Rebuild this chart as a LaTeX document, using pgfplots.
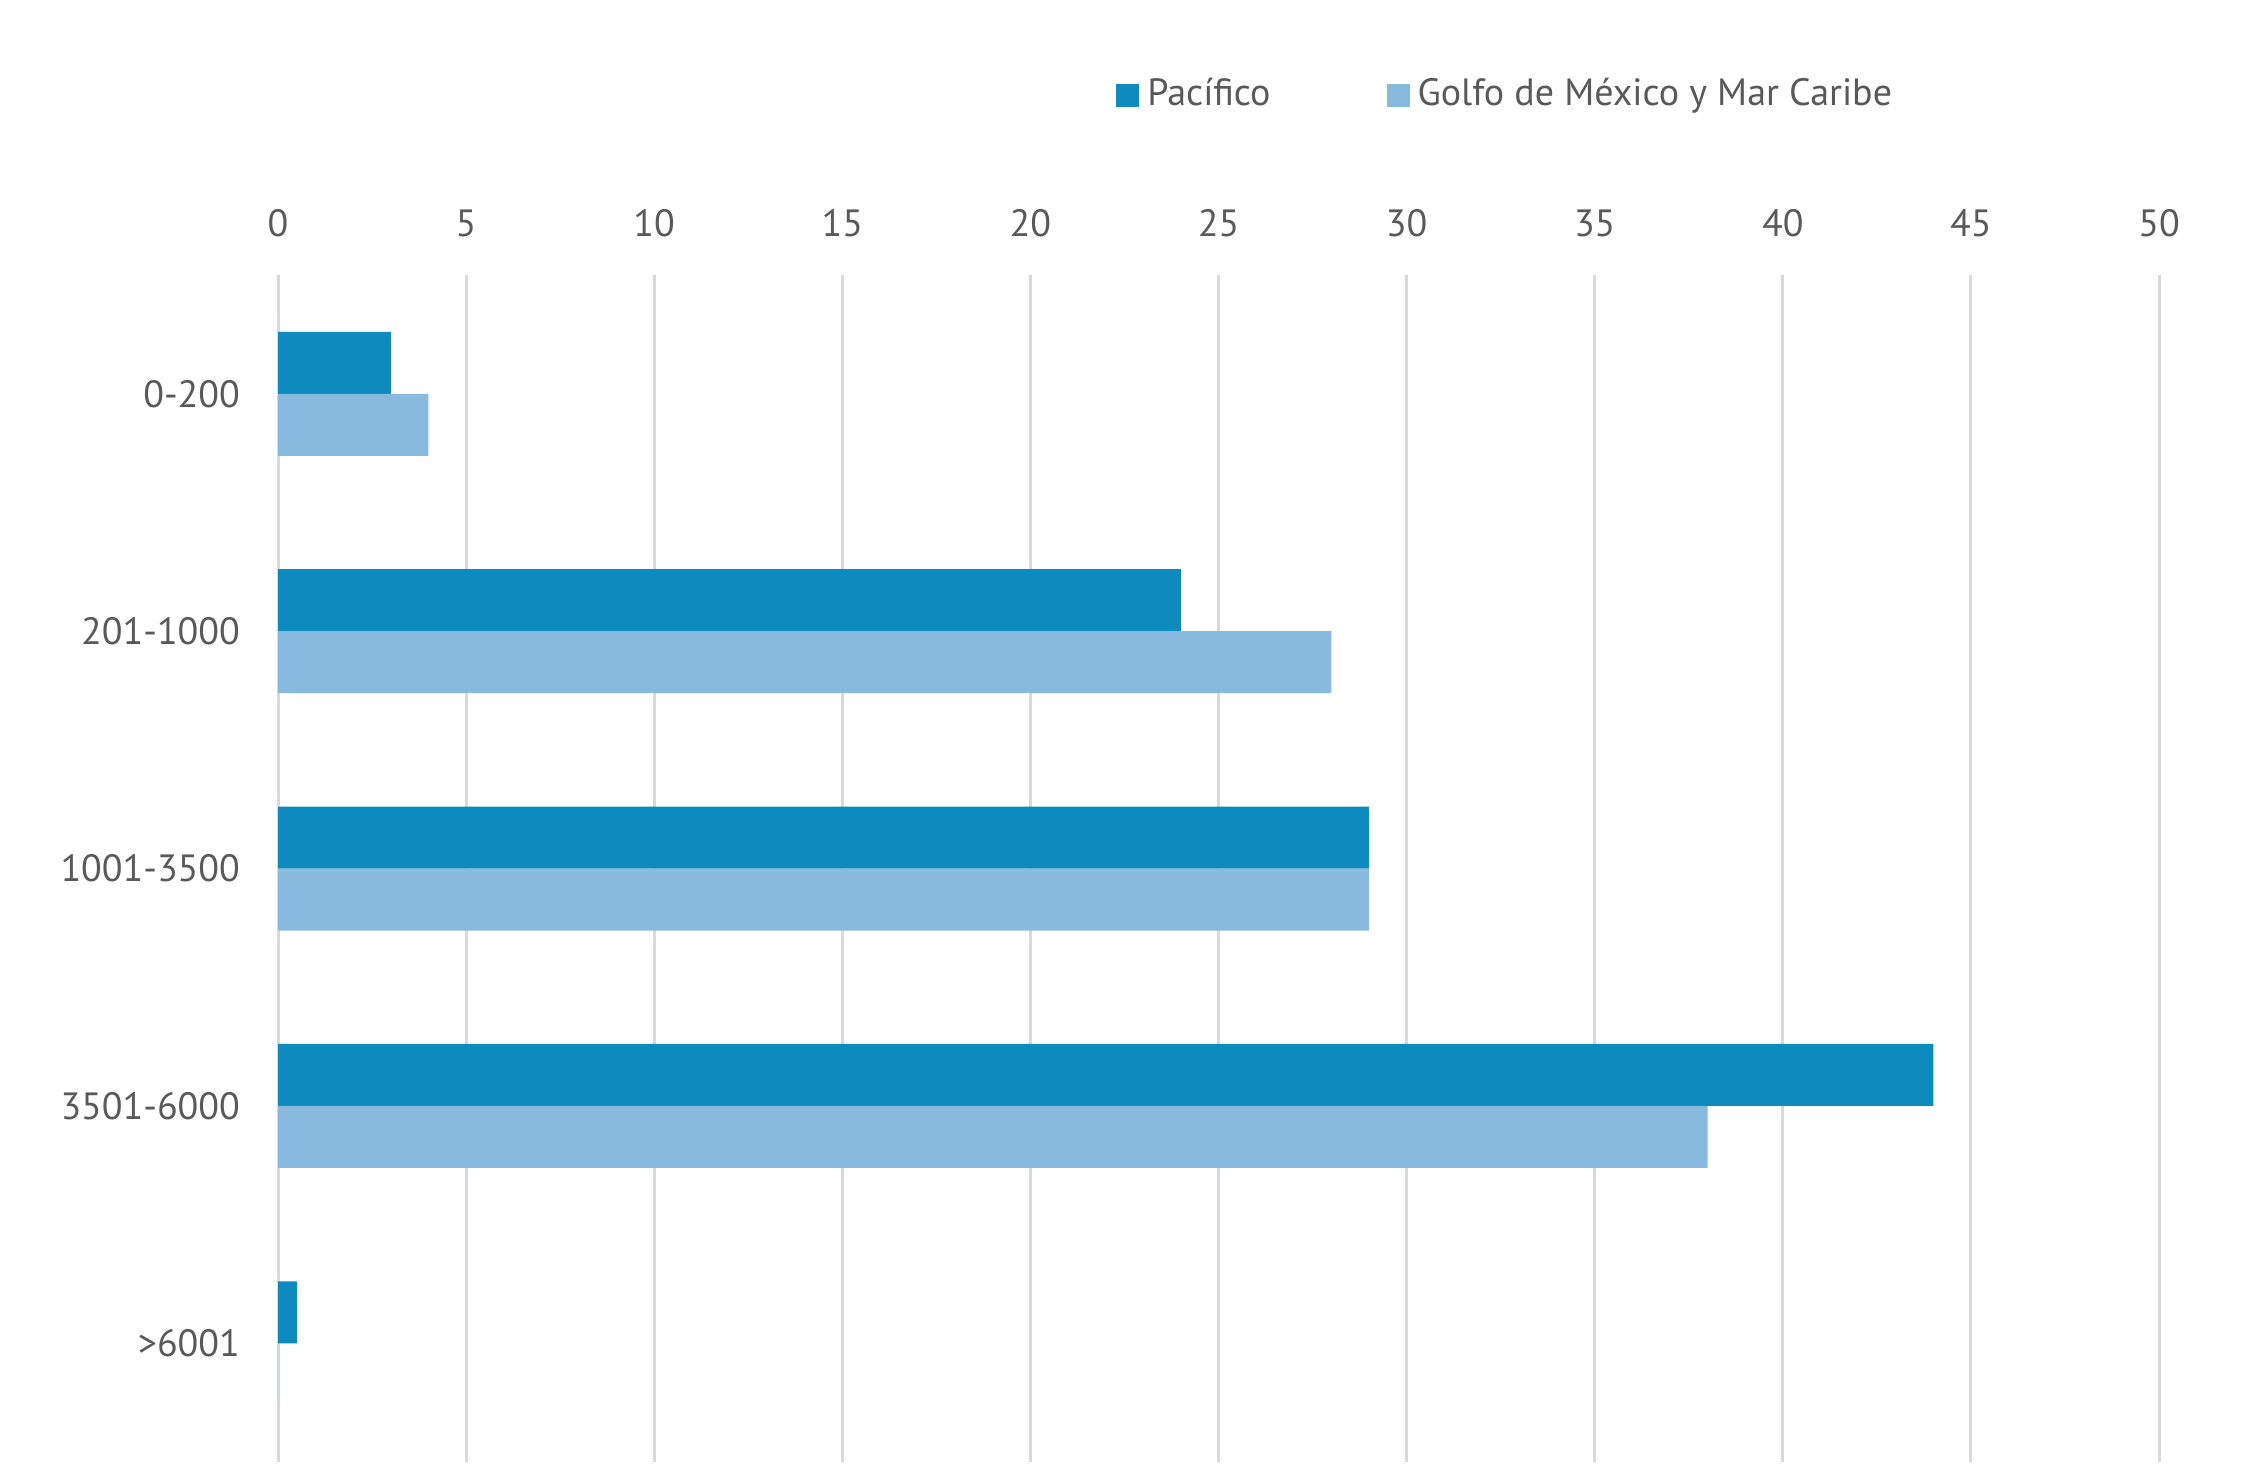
\documentclass[border=0pt]{standalone}
\usepackage{pgfplots}
\pgfplotsset{compat=1.18}
\usepackage{fontspec}
\setmainfont{PT Sans}
\definecolor{pac}{HTML}{0E8BBE}
\definecolor{gol}{HTML}{88BAE0}
\definecolor{txt}{HTML}{595959}
\definecolor{grd}{HTML}{D9D9D9}
\begin{document}
\begin{tikzpicture}
\path[use as bounding box] (-69.5pt,-3.25pt) rectangle (494.25pt,365.5pt);
\begin{axis}[
  at={(0,0)}, anchor=south west,
  scale only axis, width=470.25pt, height=296.7pt,
  xbar, bar width=15.5pt,
  xmin=0, xmax=50, xtick={0,5,...,50},
  ymin=-0.5, ymax=4.5, y dir=reverse,
  ytick={0,1,2,3,4},
  yticklabels={0-200,201-1000,1001-3500,3501-6000,>6001},
  xticklabel pos=upper,
  axis line style={draw=none},
  major tick length=0pt,
  xmajorgrids, grid style={grd, line width=0.75pt},
  ticklabel style={font=\fontsize{9.5}{11}\selectfont, text=txt},
  /pgf/number format/assume math mode=true,
  xticklabel style={yshift=6pt},
  yticklabel style={xshift=-6pt},
  legend style={at={(0.654,1)}, anchor=center, yshift=45pt, draw=none,
    font=\fontsize{9.5}{11}\selectfont, text=txt, legend columns=2,
    /tikz/every even column/.append style={column sep=27pt}},
  legend image code/.code={\fill[#1, draw=none] (0pt,-2.9pt) rectangle (5.75pt,2.9pt);},
]
\addplot[fill=pac, draw=none, bar shift=7.75pt] coordinates {(3,0) (24,1) (29,2) (44,3) (0.5,4)};
\addplot[fill=gol, draw=none, bar shift=-7.75pt] coordinates {(4,0) (28,1) (29,2) (38,3) (0,4)};
\legend{Pacífico, Golfo de México y Mar Caribe}
\end{axis}
\end{tikzpicture}
\end{document}
